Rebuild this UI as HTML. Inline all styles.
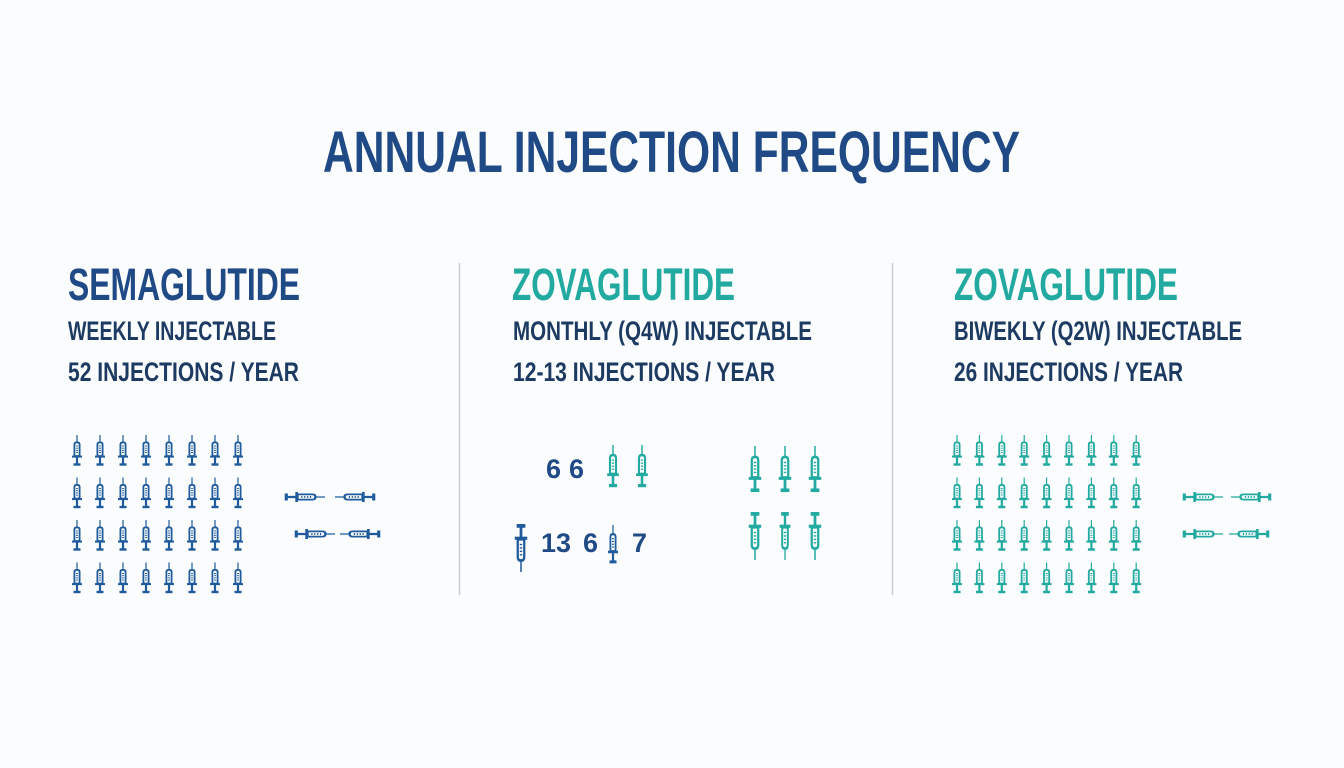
<!DOCTYPE html>
<html><head><meta charset="utf-8"><style>
html,body{margin:0;padding:0;background:#fbfcfd;}
svg{display:block}
text{font-family:"Liberation Sans Narrow","Liberation Sans",sans-serif;font-weight:bold;}
</style></head><body>
<svg id="c" width="1344" height="768" viewBox="0 0 1344 768" xmlns="http://www.w3.org/2000/svg">
<defs>
<symbol id="s" viewBox="0 0 12 32" preserveAspectRatio="none">
<g fill="none" stroke="currentColor">
<line x1="6" y1="0" x2="6" y2="7.5" stroke-width="1.2"/>
<path d="M3.4,21 V9.5 Q3.4,7.3 6,7.3 Q8.6,7.3 8.6,9.5 V21 Z" stroke-width="1.8"/>
<line x1="5" y1="11" x2="7" y2="11" stroke-width="0.9"/>
<line x1="5" y1="13.2" x2="7" y2="13.2" stroke-width="0.9"/>
<line x1="5" y1="15.4" x2="7" y2="15.4" stroke-width="0.9"/>
<line x1="5" y1="17.6" x2="7" y2="17.6" stroke-width="0.9"/>
<line x1="1" y1="21.6" x2="11" y2="21.6" stroke-width="2"/>
<line x1="6" y1="22" x2="6" y2="28.5" stroke-width="2.2"/>
<line x1="2.5" y1="29.5" x2="9.5" y2="29.5" stroke-width="2.4"/>
</g>
</symbol>
</defs>
<rect width="1344" height="768" fill="#fbfcfd"/>
<text x="323" y="172" font-size="58" fill="#1f4a86" textLength="697" lengthAdjust="spacingAndGlyphs">ANNUAL INJECTION FREQUENCY</text>

<line x1="459.5" y1="263" x2="459.5" y2="595" stroke="#c9cdd2" stroke-width="1.5"/>
<line x1="892.5" y1="263" x2="892.5" y2="595" stroke="#c9cdd2" stroke-width="1.5"/>

<text x="68" y="300" font-size="45" fill="#1f4a86" textLength="232" lengthAdjust="spacingAndGlyphs">SEMAGLUTIDE</text>
<text x="68" y="340" font-size="27" fill="#1d3b62" textLength="208" lengthAdjust="spacingAndGlyphs">WEEKLY INJECTABLE</text>
<text x="68" y="381" font-size="27" fill="#1d3b62" textLength="231" lengthAdjust="spacingAndGlyphs">52 INJECTIONS / YEAR</text>

<text x="512" y="300" font-size="45" fill="#22a9a0" textLength="223" lengthAdjust="spacingAndGlyphs">ZOVAGLUTIDE</text>
<text x="513" y="340" font-size="27" fill="#1d3b62" textLength="299" lengthAdjust="spacingAndGlyphs">MONTHLY (Q4W) INJECTABLE</text>
<text x="513" y="381" font-size="27" fill="#1d3b62" textLength="262" lengthAdjust="spacingAndGlyphs">12-13 INJECTIONS / YEAR</text>

<text x="954" y="300" font-size="45" fill="#22a9a0" textLength="224" lengthAdjust="spacingAndGlyphs">ZOVAGLUTIDE</text>
<text x="954" y="340" font-size="27" fill="#1d3b62" textLength="288" lengthAdjust="spacingAndGlyphs">BIWEKLY (Q2W) INJECTABLE</text>
<text x="954" y="381" font-size="27" fill="#1d3b62" textLength="229" lengthAdjust="spacingAndGlyphs">26 INJECTIONS / YEAR</text>

<text x="546" y="478" font-size="27" fill="#1f4a86">6</text>
<text x="569" y="478" font-size="27" fill="#1f4a86">6</text>
<text x="541" y="552" font-size="27" fill="#1f4a86">13</text>
<text x="583" y="552" font-size="27" fill="#1f4a86">6</text>
<text x="632" y="552" font-size="27" fill="#1f4a86">7</text>
<g id="g"></g>
</svg>
<script>
var g=document.getElementById('g'),NS='http://www.w3.org/2000/svg';
function u(cx,cy,w,h,rot,col){var e=document.createElementNS(NS,'use');e.setAttribute('href','#s');
e.setAttribute('x',-w/2);e.setAttribute('y',-h/2);e.setAttribute('width',w);e.setAttribute('height',h);
e.setAttribute('transform','translate('+cx+','+cy+') rotate('+rot+')');e.setAttribute('style','color:'+col);g.appendChild(e);}
var B='#1f5b9c',T='#22aaa0';
for(var r=0;r<4;r++)for(var c=0;c<8;c++)u(77+c*23,451+r*42.5,12,32,0,B);
for(var r=0;r<4;r++)for(var c=0;c<9;c++)u(957+c*22.4,451+r*42.5,12,32,0,T);
u(304,497,12,42,90,B);u(356,497,12,42,-90,B);u(314,534,12,42,90,B);u(361,534,12,42,-90,B);
u(1202,497,12,42,90,T);u(1252,497,12,42,-90,T);u(1202,534,12,42,90,T);u(1250,534,12,42,-90,T);
u(613,467,14,44,0,T);u(642,467,14,44,0,T);
u(521,547,15,50,180,B);u(613,545,12,40,0,B);
u(755,470,15,48,0,T);u(785,470,15,48,0,T);u(815,470,15,48,0,T);
u(755,535,15,50,180,T);u(785,535,13,50,180,T);u(815,535,15,50,180,T);
</script>
</body></html>
